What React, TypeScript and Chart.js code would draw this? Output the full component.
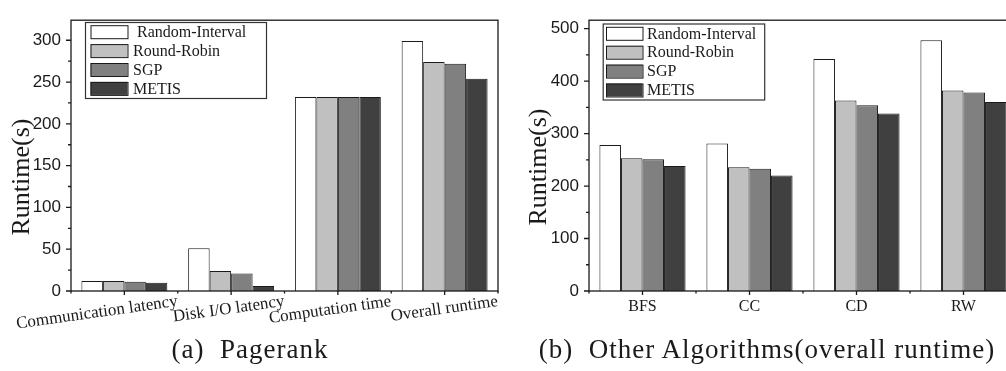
import React, { useEffect, useRef } from 'react';
import { Chart, registerables } from 'chart.js';
Chart.register(...registerables);

// ---------- data ----------
const seriesNames = ['Random-Interval', 'Round-Robin', 'SGP', 'METIS'];
const seriesColors = ['#ffffff', '#c0c0c0', '#808080', '#404040'];

const pagerankCategories = ['Communication latency', 'Disk I/O latency', 'Computation time', 'Overall runtime'];
const pagerankRandomInterval = [12, 51, 232, 299];
const pagerankRoundRobin = [12, 24, 232, 274];
const pagerankSGP = [11, 21, 232, 272];
const pagerankMETIS = [10, 6, 232, 254];
const pagerankYTicks = [0, 50, 100, 150, 200, 250, 300];

const otherCategories = ['BFS', 'CC', 'CD', 'RW'];
const otherRandomInterval = [278, 281, 442, 478];
const otherRoundRobin = [253, 236, 363, 382];
const otherSGP = [251, 233, 354, 378];
const otherMETIS = [238, 220, 338, 360];
const otherYTicks = [0, 100, 200, 300, 400, 500];

const yTitle = 'Runtime(s)';
const captionA = '(a)  Pagerank';
const captionB = '(b)  Other Algorithms(overall runtime)';

// ---------- panel configs ----------
type PanelCfg = {
  width: number;
  height: number;
  padTop: number;
  padRight: number;
  yWidth: number;
  xHeight: number;
  yMax: number;
  yTicks: number[];
  yMinorStep: number;
  categories: string[];
  series: number[][];
  legendLabels: string[];
  legendBox: { x: number; y: number; w: number; h: number; sx: number; sw: number; tx: number; row0: number; rowStep: number };
  titleX: number;
  titleY: number;
  xLabelRotated: boolean;
};

const panelA: PanelCfg = {
  width: 500,
  height: 371,
  padTop: 7,
  padRight: 2,
  yWidth: 71,
  xHeight: 80,
  yMax: 324,
  yTicks: pagerankYTicks,
  yMinorStep: 25,
  categories: pagerankCategories,
  series: [pagerankRandomInterval, pagerankRoundRobin, pagerankSGP, pagerankMETIS],
  legendLabels: [' ' + seriesNames[0], seriesNames[1], seriesNames[2], seriesNames[3]],
  legendBox: { x: 85, y: 22, w: 181, h: 76, sx: 90.5, sw: 37, tx: 133, row0: 31.7, rowStep: 18.9 },
  titleX: 22,
  titleY: 177,
  xLabelRotated: true,
};

const panelB: PanelCfg = {
  width: 520,
  height: 371,
  padTop: 10,
  padRight: 3,
  yWidth: 89,
  xHeight: 80,
  yMax: 516,
  yTicks: otherYTicks,
  yMinorStep: 50,
  categories: otherCategories,
  series: [otherRandomInterval, otherRoundRobin, otherSGP, otherMETIS],
  legendLabels: seriesNames,
  legendBox: { x: 102.7, y: 23.5, w: 161.5, h: 76, sx: 106, sw: 36.5, tx: 147, row0: 33.3, rowStep: 18.9 },
  titleX: 39,
  titleY: 167,
  xLabelRotated: false,
};

const INK = '#1a1a1a';
const SERIF = '"Liberation Serif", "Times New Roman", serif';
const SANS = '"Liberation Sans", Arial, sans-serif';

function makeDecorPlugin(cfg: PanelCfg) {
  return {
    id: 'decor',
    afterDraw(chart: any) {
      const { ctx, chartArea: a, scales } = chart;
      const x = scales.x;
      const y = scales.y;
      ctx.save();
      // frame
      ctx.strokeStyle = INK;
      ctx.lineWidth = 1.3;
      ctx.strokeRect(a.left, a.top, a.right - a.left, a.bottom - a.top);
      // y ticks (major + minor), outward
      ctx.beginPath();
      const majors = new Set(cfg.yTicks);
      for (let v = 0; v <= cfg.yMax; v += cfg.yMinorStep) {
        const py = y.getPixelForValue(v);
        const len = majors.has(v) ? 5 : 3;
        ctx.moveTo(a.left, py);
        ctx.lineTo(a.left - len, py);
      }
      // x ticks: major at centers, minor at boundaries
      const n = cfg.categories.length;
      for (let i = 0; i < n; i++) {
        const px = x.getPixelForValue(i);
        ctx.moveTo(px, a.bottom);
        ctx.lineTo(px, a.bottom + 4);
      }
      for (let i = 0; i <= n; i++) {
        const px = x.getPixelForValue(i - 0.5);
        ctx.moveTo(px, a.bottom);
        ctx.lineTo(px, a.bottom + 2.5);
      }
      ctx.stroke();

      // x labels
      ctx.fillStyle = INK;
      for (let i = 0; i < n; i++) {
        const px = x.getPixelForValue(i);
        if (cfg.xLabelRotated) {
          ctx.save();
          ctx.font = `17px ${SERIF}`;
          ctx.translate(px + 52, a.bottom + 2);
          ctx.rotate((-8 * Math.PI) / 180);
          ctx.textAlign = 'right';
          ctx.textBaseline = 'top';
          ctx.fillText(cfg.categories[i], 0, 0);
          ctx.restore();
        } else {
          ctx.font = `16px ${SERIF}`;
          ctx.textAlign = 'center';
          ctx.textBaseline = 'middle';
          ctx.fillText(cfg.categories[i], px, a.bottom + 15.5);
        }
      }

      // y title
      ctx.save();
      ctx.font = `26px ${SERIF}`;
      ctx.translate(cfg.titleX, cfg.titleY);
      ctx.rotate(-Math.PI / 2);
      ctx.textAlign = 'center';
      ctx.textBaseline = 'middle';
      ctx.fillText(yTitle, 0, 0);
      ctx.restore();

      // legend
      const b = cfg.legendBox;
      ctx.fillStyle = '#ffffff';
      ctx.fillRect(b.x, b.y, b.w, b.h);
      ctx.strokeStyle = '#333';
      ctx.lineWidth = 1.2;
      ctx.strokeRect(b.x + 0.5, b.y + 0.5, b.w, b.h);
      chart.data.datasets.forEach((ds: any, i: number) => {
        const cy = b.row0 + i * b.rowStep;
        ctx.fillStyle = ds.backgroundColor;
        ctx.fillRect(b.sx, cy - 6.5, b.sw, 13);
        ctx.strokeStyle = INK;
        ctx.lineWidth = 1;
        ctx.strokeRect(b.sx + 0.5, cy - 6.5 + 0.5, b.sw, 13);
        ctx.fillStyle = INK;
        ctx.font = `16px ${SERIF}`;
        ctx.textAlign = 'left';
        ctx.textBaseline = 'middle';
        ctx.fillText(cfg.legendLabels[i], b.tx, cy + 1);
      });
      ctx.restore();
    },
  };
}

function Panel({ cfg, left }: { cfg: PanelCfg; left: number }) {
  const ref = useRef<HTMLCanvasElement | null>(null);
  useEffect(() => {
    const canvas = ref.current;
    if (!canvas) return;
    const chart = new Chart(canvas, {
      type: 'bar',
      data: {
        labels: cfg.categories,
        datasets: cfg.series.map((vals, i) => ({
          label: seriesNames[i],
          data: vals,
          backgroundColor: seriesColors[i],
          borderColor: INK,
          borderWidth: 1,
          categoryPercentage: 0.805,
          barPercentage: 1.0,
        })),
      },
      options: {
        responsive: false,
        animation: false,
        devicePixelRatio: 1,
        layout: { padding: { top: cfg.padTop, right: cfg.padRight, left: 0, bottom: 0 } },
        plugins: { legend: { display: false }, tooltip: { enabled: false }, title: { display: false } },
        scales: {
          x: {
            grid: { display: false },
            border: { display: false },
            ticks: { display: false },
            afterFit: (s: any) => {
              s.height = cfg.xHeight;
            },
          },
          y: {
            min: 0,
            max: cfg.yMax,
            grid: { display: false, drawTicks: false },
            border: { display: false },
            afterBuildTicks: (s: any) => {
              s.ticks = cfg.yTicks.map((v) => ({ value: v }));
            },
            ticks: {
              padding: 10,
              color: INK,
              font: { family: SANS, size: 17 },
            },
            afterFit: (s: any) => {
              s.width = cfg.yWidth;
            },
          },
        },
      },
      plugins: [makeDecorPlugin(cfg)],
    } as any);
    return () => chart.destroy();
  }, [cfg]);
  return (
    <canvas
      ref={ref}
      width={cfg.width}
      height={cfg.height}
      style={{ position: 'absolute', left, top: 0, width: cfg.width, height: cfg.height }}
    />
  );
}

export default function App() {
  const captionStyle: React.CSSProperties = {
    position: 'absolute',
    top: 334,
    fontFamily: SERIF,
    fontSize: 27,
    lineHeight: '30px',
    letterSpacing: '1px',
    whiteSpace: 'pre',
    textAlign: 'center',
    color: INK,
    margin: 0,
  };
  return (
    <div
      style={{
        position: 'fixed',
        left: 0,
        top: 0,
        width: 1006,
        height: 371,
        overflow: 'hidden',
        background: '#ffffff',
      }}
    >
      <Panel cfg={panelA} left={0} />
      <Panel cfg={panelB} left={500} />
      <div style={{ ...captionStyle, left: 0, width: 500 }}>{captionA}</div>
      <div style={{ ...captionStyle, left: 534, width: 466 }}>{captionB}</div>
    </div>
  );
}
